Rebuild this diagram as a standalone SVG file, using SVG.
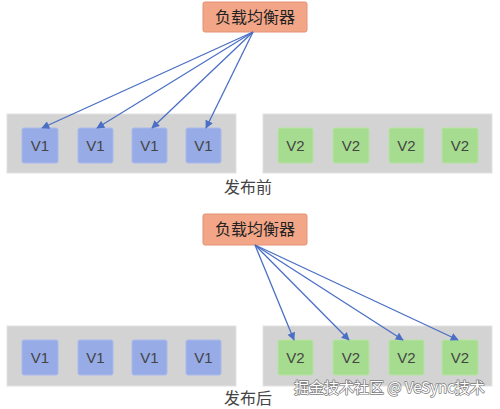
<svg xmlns="http://www.w3.org/2000/svg" width="500" height="409" viewBox="0 0 500 409">
<defs>
<marker id="ah" viewBox="0 0 10 10" refX="9" refY="5" markerWidth="9" markerHeight="8" markerUnits="userSpaceOnUse" orient="auto">
<path d="M0,0 L10,5 L0,10 z" fill="#4a6fc4"/>
</marker>
<style>
.lb{fill:#f2a587;stroke:#e39274;stroke-width:1}
.lbt{font-family:"Noto Sans CJK SC",sans-serif;font-size:16px;fill:#222;text-anchor:middle}
.cont{fill:#d3d3d3;stroke:#e2e2e2;stroke-width:1}
.v1{fill:#97abe6;stroke:#a9b9ec;stroke-width:1}
.v2{fill:#a6dc8f;stroke:#b6e3a2;stroke-width:1}
.vt{font-family:"Liberation Sans",Arial,sans-serif;font-size:15px;fill:#444;text-anchor:middle}
.cap{font-family:"Noto Sans CJK SC",sans-serif;font-size:16px;fill:#444;text-anchor:middle}
.conn line{stroke:#4a6fc4;stroke-width:1.3;marker-end:url(#ah)}
.wm{font-family:"Noto Sans CJK SC",sans-serif;font-size:15px;fill:#ffffff;stroke:#7a7a7a;stroke-width:1.4;paint-order:stroke;stroke-linejoin:round}
</style>
</defs>
<rect width="500" height="409" fill="#ffffff"/>

<!-- Top section -->
<g id="lb-top"><rect class="lb" x="203" y="2" width="104" height="30" rx="2"/><text class="lbt" x="255" y="23">负载均衡器</text></g>
<g id="cont-top-v1"><rect class="cont" x="7" y="114" width="229" height="59"/></g>
<g id="cont-top-v2"><rect class="cont" x="263" y="114" width="229" height="59"/></g>
<g id="t-v1-1"><rect class="v1" x="22" y="128" width="36" height="35" rx="2"/><text class="vt" x="40" y="151">V1</text></g>
<g id="t-v1-2"><rect class="v1" x="78" y="128" width="35" height="35" rx="2"/><text class="vt" x="95.5" y="151">V1</text></g>
<g id="t-v1-3"><rect class="v1" x="132" y="128" width="35" height="35" rx="2"/><text class="vt" x="149.5" y="151">V1</text></g>
<g id="t-v1-4"><rect class="v1" x="186" y="128" width="35" height="35" rx="2"/><text class="vt" x="203.5" y="151">V1</text></g>
<g id="t-v2-1"><rect class="v2" x="278" y="128" width="35" height="35" rx="2"/><text class="vt" x="295.5" y="151">V2</text></g>
<g id="t-v2-2"><rect class="v2" x="333" y="128" width="36" height="35" rx="2"/><text class="vt" x="351" y="151">V2</text></g>
<g id="t-v2-3"><rect class="v2" x="389" y="128" width="35" height="35" rx="2"/><text class="vt" x="406.5" y="151">V2</text></g>
<g id="t-v2-4"><rect class="v2" x="442" y="128" width="36" height="35" rx="2"/><text class="vt" x="460" y="151">V2</text></g>
<g id="cap-top"><text class="cap" x="248" y="193">发布前</text></g>

<!-- Bottom section -->
<g id="lb-bot"><rect class="lb" x="203" y="214" width="104" height="31" rx="2"/><text class="lbt" x="255" y="235">负载均衡器</text></g>
<g id="cont-bot-v1"><rect class="cont" x="7" y="326" width="229" height="60"/></g>
<g id="cont-bot-v2"><rect class="cont" x="263" y="326" width="229" height="60"/></g>
<g id="b-v1-1"><rect class="v1" x="22" y="340" width="36" height="35" rx="2"/><text class="vt" x="40" y="363">V1</text></g>
<g id="b-v1-2"><rect class="v1" x="78" y="340" width="35" height="35" rx="2"/><text class="vt" x="95.5" y="363">V1</text></g>
<g id="b-v1-3"><rect class="v1" x="132" y="340" width="35" height="35" rx="2"/><text class="vt" x="149.5" y="363">V1</text></g>
<g id="b-v1-4"><rect class="v1" x="186" y="340" width="35" height="35" rx="2"/><text class="vt" x="203.5" y="363">V1</text></g>
<g id="b-v2-1"><rect class="v2" x="278" y="340" width="35" height="35" rx="2"/><text class="vt" x="295.5" y="363">V2</text></g>
<g id="b-v2-2"><rect class="v2" x="333" y="340" width="36" height="35" rx="2"/><text class="vt" x="351" y="363">V2</text></g>
<g id="b-v2-3"><rect class="v2" x="389" y="340" width="35" height="35" rx="2"/><text class="vt" x="406.5" y="363">V2</text></g>
<g id="b-v2-4"><rect class="v2" x="442" y="340" width="36" height="35" rx="2"/><text class="vt" x="460" y="363">V2</text></g>
<g id="cap-bot"><text class="cap" x="248" y="404">发布后</text></g>

<g id="connectors" class="conn">
<line x1="253" y1="32" x2="42" y2="128"/>
<line x1="253" y1="32" x2="97" y2="128"/>
<line x1="253" y1="32" x2="152" y2="128"/>
<line x1="253" y1="32" x2="206" y2="128"/>
<line x1="255" y1="245" x2="294" y2="340"/>
<line x1="255" y1="245" x2="349" y2="340"/>
<line x1="255" y1="245" x2="403" y2="340"/>
<line x1="255" y1="245" x2="458" y2="340"/>
</g>

<text class="wm" x="294" y="393">掘金技术社区 @ VeSync技术</text>
</svg>
